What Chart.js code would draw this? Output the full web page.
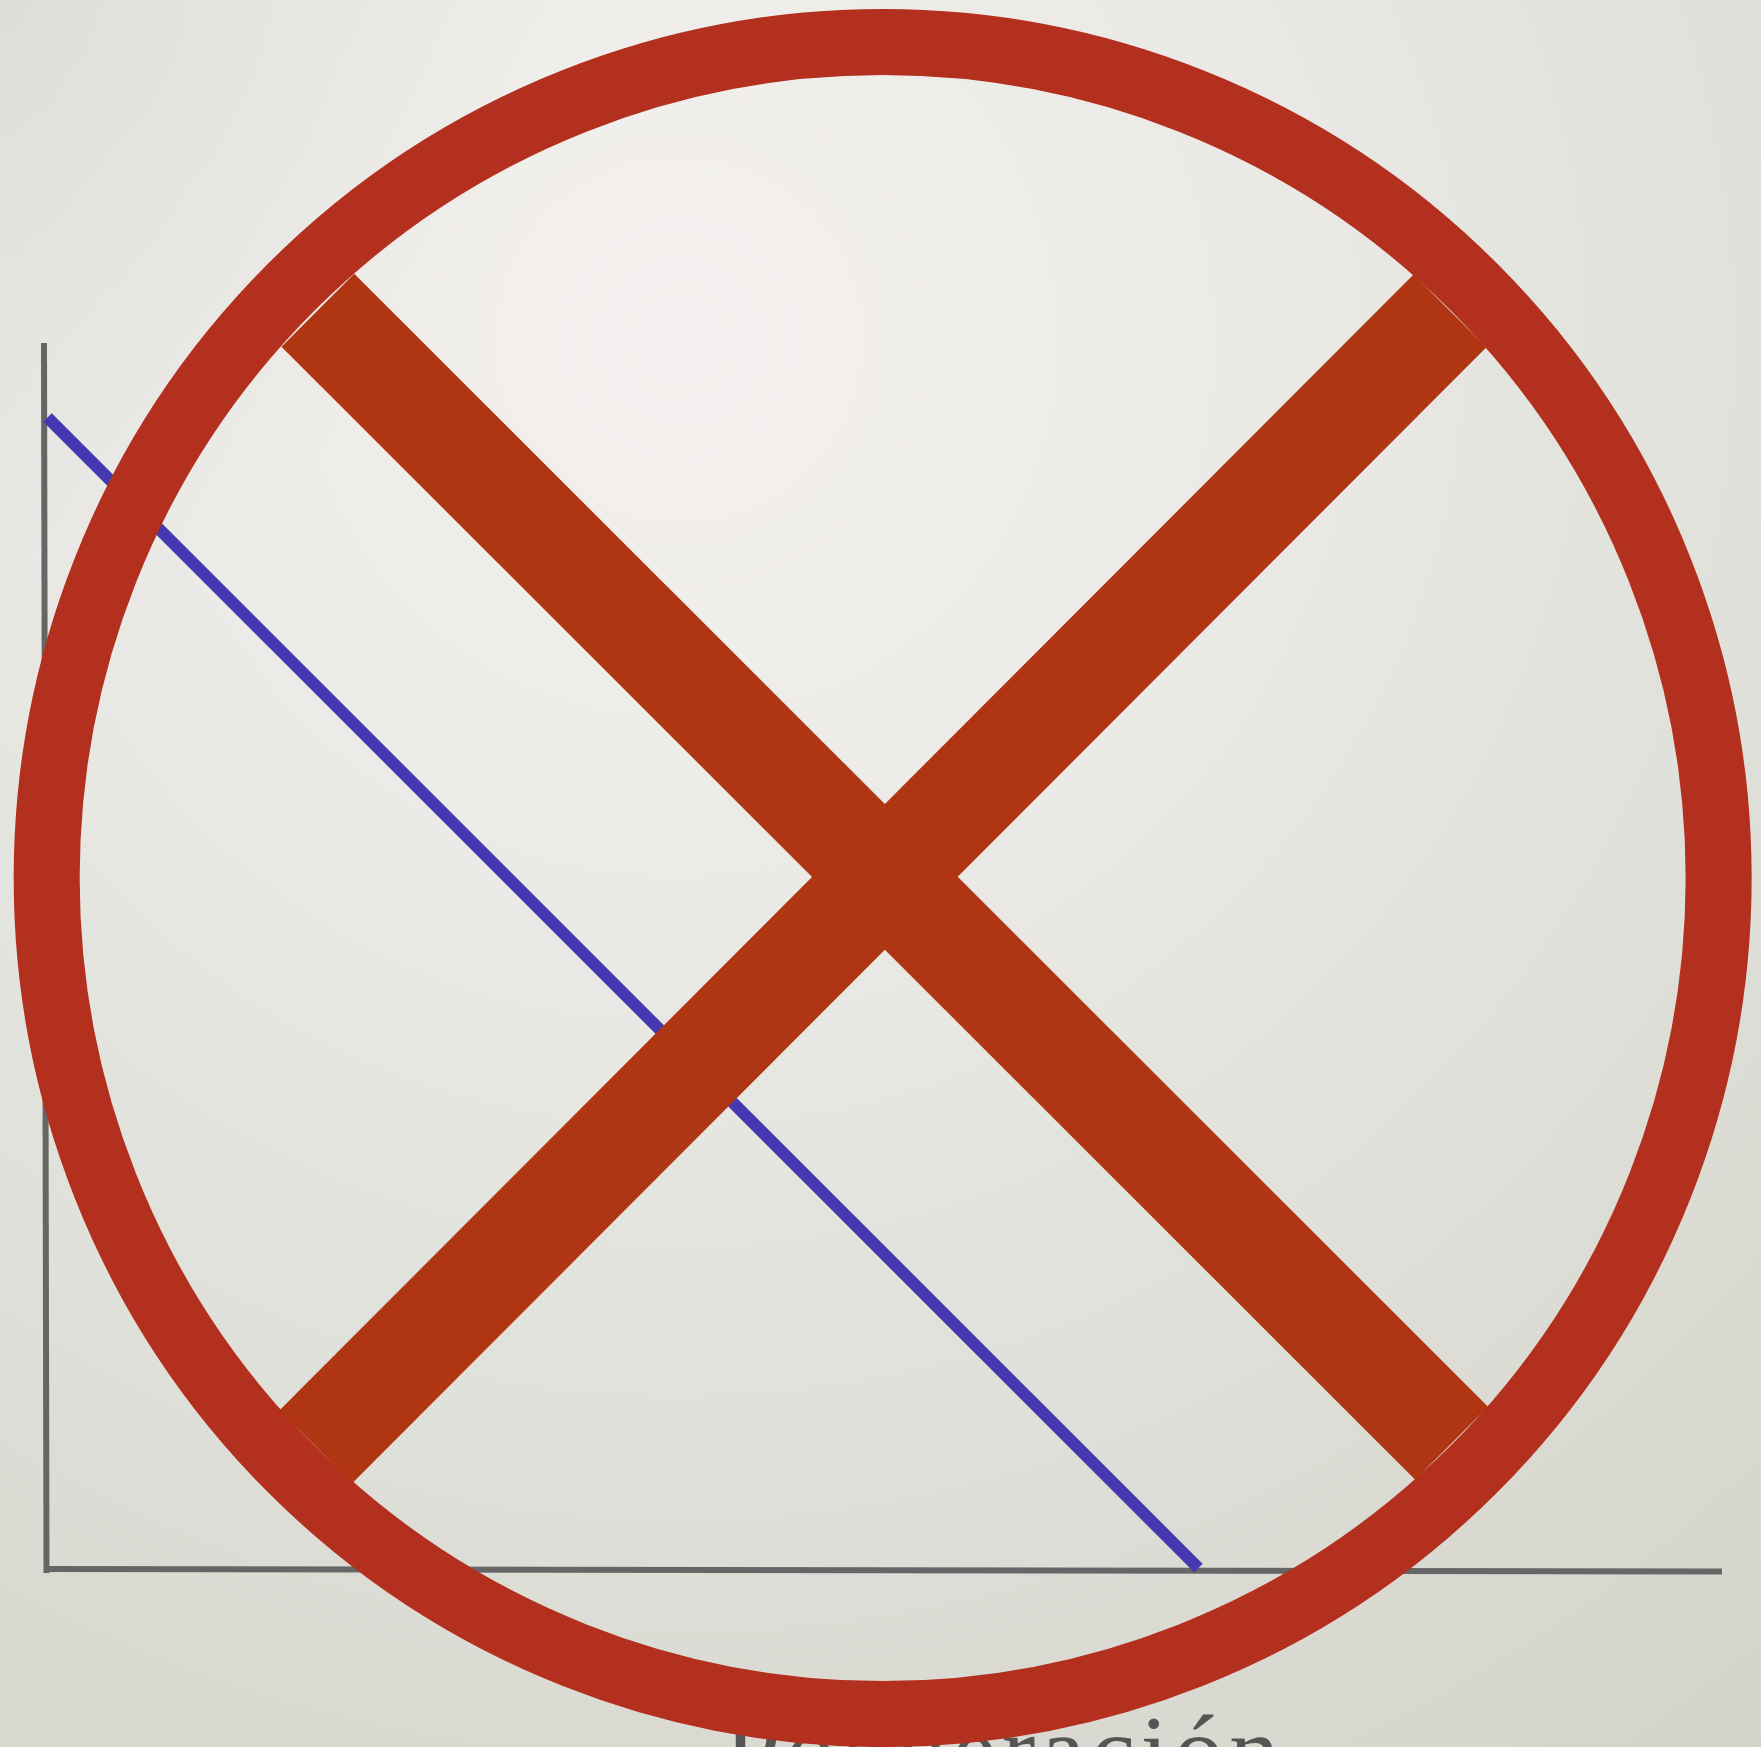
<!DOCTYPE html>
<html lang="es">
<head>
<meta charset="utf-8">
<title>Ponderación</title>
<script src="https://cdn.jsdelivr.net/npm/chart.js@4"></script>
<style>
html,body{margin:0;padding:0;width:1761px;height:1747px;overflow:hidden;}
body{background:radial-gradient(circle 560px at 0px 0px,rgba(205,205,196,.35),rgba(205,205,196,0)),radial-gradient(circle 1840px at 680px 340px,#f3f0ef 0%,#f0eeeb 16%,#ebe9e6 33%,#e5e5df 45%,#e0e0da 61%,#dbdbd4 73%,#d2d2ca 100%);}
#c{display:block;}
</style>
</head>
<body>
<canvas id="c" width="1761" height="1747"></canvas>
<script>
// Axis title
const xAxisLabel = 'Ponderación';
// Axis lines
const yAxisLineX = [-0.12, 0.03];
const yAxisLineY = [100.16, -0.33];
const xAxisLineX = [0, 100];
const xAxisLineY = [0, -0.2];
// Falling line
const lineX = [0.09, 68.76];
const lineY = [94.08, 0.08];
// Crossing-out mark
const ringX = [49.92];
const ringY = [56.45];
const strokeAX = [16.22, 83.87];
const strokeAY = [102.84, 10.27];
const strokeBX = [83.77, 16.11];
const strokeBY = [102.78, 9.99];
// Where the axis title sits, in axis units
const labelX = [57.2];
const labelY = [-17.56];

const pts = (xs, ys) => xs.map((x, i) => ({x, y: ys[i]}));

const axisLabelPlugin = {
  id: 'axisLabel',
  beforeDatasetsDraw(chart) {
    const {ctx, scales} = chart;
    ctx.save();
    ctx.font = '100px "Liberation Serif"';
    ctx.letterSpacing = '5.5px';
    ctx.fillStyle = '#555555';
    ctx.textAlign = 'center';
    ctx.textBaseline = 'alphabetic';
    ctx.fillText(xAxisLabel, scales.x.getPixelForValue(labelX[0]), scales.y.getPixelForValue(labelY[0]));
    ctx.restore();
  }
};

const lineStyle = (color, width, order) => ({
  showLine: true, borderColor: color, backgroundColor: color, borderWidth: width,
  pointRadius: 0, pointHoverRadius: 0, borderCapStyle: 'butt', tension: 0, clip: false, order
});

new Chart(document.getElementById('c'), {
  type: 'scatter',
  plugins: [axisLabelPlugin],
  data: {
    datasets: [
      {label: 'Trazo A', data: pts(strokeAX, strokeAY), ...lineStyle('#b03613', 103, 1)},
      {label: 'Trazo B', data: pts(strokeBX, strokeBY), ...lineStyle('#b03613', 103, 1)},
      {label: 'Círculo', data: pts(ringX, ringY), showLine: false, pointRadius: 836, pointHoverRadius: 836,
       pointBackgroundColor: 'rgba(0,0,0,0)', pointBorderColor: '#b32f1e', pointBorderWidth: 66, clip: false, order: 2},
      {label: 'Línea', data: pts(lineX, lineY), ...lineStyle('#4538b0', 12, 3)},
      {label: 'Eje Y', data: pts(yAxisLineX, yAxisLineY), ...lineStyle('#666666', 6, 4)},
      {label: 'Eje X', data: pts(xAxisLineX, xAxisLineY), ...lineStyle('#666666', 6, 4)}
    ]
  },
  options: {
    responsive: false,
    animation: false,
    events: [],
    layout: {autoPadding: false, padding: {left: 46, right: 39, top: 345, bottom: 178}},
    plugins: {legend: {display: false}, title: {display: false}, tooltip: {enabled: false}},
    scales: {
      x: {type: 'linear', min: 0, max: 100, display: false},
      y: {type: 'linear', min: 0, max: 100, display: false}
    }
  }
});
</script>
</body>
</html>
